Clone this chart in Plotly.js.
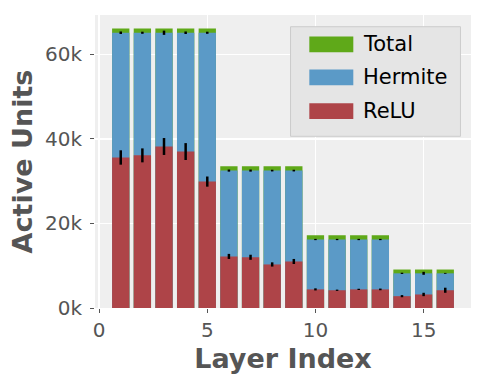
<!DOCTYPE html>
<html>
<head>
<meta charset="utf-8">
<script src="https://cdn.plot.ly/plotly-3.0.1.min.js"></script>
<style>
  html, body { margin: 0; padding: 0; background: #ffffff; }
  #chart { width: 484px; height: 384px; }
</style>
</head>
<body>
<div id="chart"></div>
<script>
// layer indices 1..16
var layers = [1, 2, 3, 4, 5, 6, 7, 8, 9, 10, 11, 12, 13, 14, 15, 16];

// values in thousands of units
var totalUnits = [66.1, 66.1, 66.1, 66.1, 66.1, 33.5, 33.5, 33.5, 33.5, 17.2, 17.2, 17.2, 17.2, 9.1, 9.1, 9.1];
var hermiteUnits = [65.1, 65.1, 65.1, 65.1, 65.1, 32.5, 32.5, 32.5, 32.5, 16.2, 16.2, 16.2, 16.2, 8.2, 8.2, 8.2];
var hermiteErr = [0.3, 0.25, 0.5, 0.3, 0.25, 0.25, 0.25, 0.2, 0.2, 0.15, 0.15, 0.15, 0.15, 0.15, 0.35, 0.1];
var reluUnits = [35.6, 36.1, 38.2, 37.0, 29.9, 12.2, 12.0, 10.3, 11.0, 4.4, 4.2, 4.4, 4.4, 2.8, 3.2, 4.2];
var reluErr = [1.7, 1.65, 2.0, 2.0, 1.2, 0.6, 0.6, 0.5, 0.6, 0.25, 0.15, 0.15, 0.2, 0.25, 0.4, 0.6];

var legendNames = ["Total", "Hermite", "ReLU"];
var colors = ["#5fa919", "#5b9ac7", "#ae4448"];

function k(arr) {
  return arr.map(function (v) { return v * 1000; });
}

var traces = [
  {
    type: "bar",
    x: layers,
    y: k(totalUnits),
    width: 0.8,
    name: legendNames[0],
    marker: { color: colors[0], line: { width: 0 } },
  },
  {
    type: "bar",
    x: layers,
    y: k(hermiteUnits),
    width: 0.8,
    name: legendNames[1],
    marker: { color: colors[1], line: { width: 0 } },
    error_y: { type: "data", array: k(hermiteErr), color: "#000000", thickness: 2.5, width: 0 },
  },
  {
    type: "bar",
    x: layers,
    y: k(reluUnits),
    width: 0.8,
    name: legendNames[2],
    marker: { color: colors[2], line: { width: 0 } },
    error_y: { type: "data", array: k(reluErr), color: "#000000", thickness: 2.5, width: 0 },
  },
];

// hand-drawn legend box so the swatches look like matplotlib patches
var shapes = [
  {
    type: "rect", xref: "paper", yref: "paper",
    x0: 0.52, x1: 0.972, y0: 0.586, y1: 0.96,
    fillcolor: "#e5e5e5", line: { color: "#cccccc", width: 1 },
  },
];
var annotations = [];
var rowY = [0.9, 0.787, 0.672];
for (var i = 0; i < legendNames.length; i++) {
  shapes.push({
    type: "rect", xref: "paper", yref: "paper",
    x0: 0.57, x1: 0.687, y0: rowY[i] - 0.027, y1: rowY[i] + 0.027,
    fillcolor: colors[i], line: { width: 0 },
  });
  annotations.push({
    xref: "paper", yref: "paper", x: 0.708, y: rowY[i],
    xanchor: "left", yanchor: "middle", showarrow: false,
    text: legendNames[i],
    font: { family: "DejaVu Sans", size: 21, color: "#000000" },
  });
}

var layout = {
  width: 484,
  height: 384,
  margin: { l: 95, r: 13, t: 15, b: 76 },
  paper_bgcolor: "#ffffff",
  plot_bgcolor: "#efefef",
  barmode: "overlay",
  bargap: 0.2,
  showlegend: false,
  font: { family: "DejaVu Sans", color: "#555555" },
  xaxis: {
    range: [-0.19, 17.19],
    tickvals: [0, 5, 10, 15],
    ticks: "outside",
    ticklen: 4,
    tickcolor: "#555555",
    tickfont: { size: 20, color: "#555555" },
    showgrid: true,
    gridcolor: "#ffffff",
    gridwidth: 1.5,
    zeroline: false,
    showline: false,
    title: { text: "<b>Layer Index</b>", font: { size: 27, color: "#555555" }, standoff: 8 },
  },
  yaxis: {
    range: [0, 69300],
    tickvals: [0, 20000, 40000, 60000],
    ticktext: ["0k", "20k", "40k", "60k"],
    ticks: "outside",
    ticklen: 4,
    tickcolor: "#555555",
    tickfont: { size: 20, color: "#555555" },
    ticklabelstandoff: 4,
    showgrid: true,
    gridcolor: "#ffffff",
    gridwidth: 1.5,
    zeroline: false,
    showline: false,
    title: { text: "<b>Active Units</b>", font: { size: 27, color: "#555555" }, standoff: 4 },
  },
  shapes: shapes,
  annotations: annotations,
};

Plotly.newPlot("chart", traces, layout, { displayModeBar: false, staticPlot: true });
</script>
</body>
</html>
